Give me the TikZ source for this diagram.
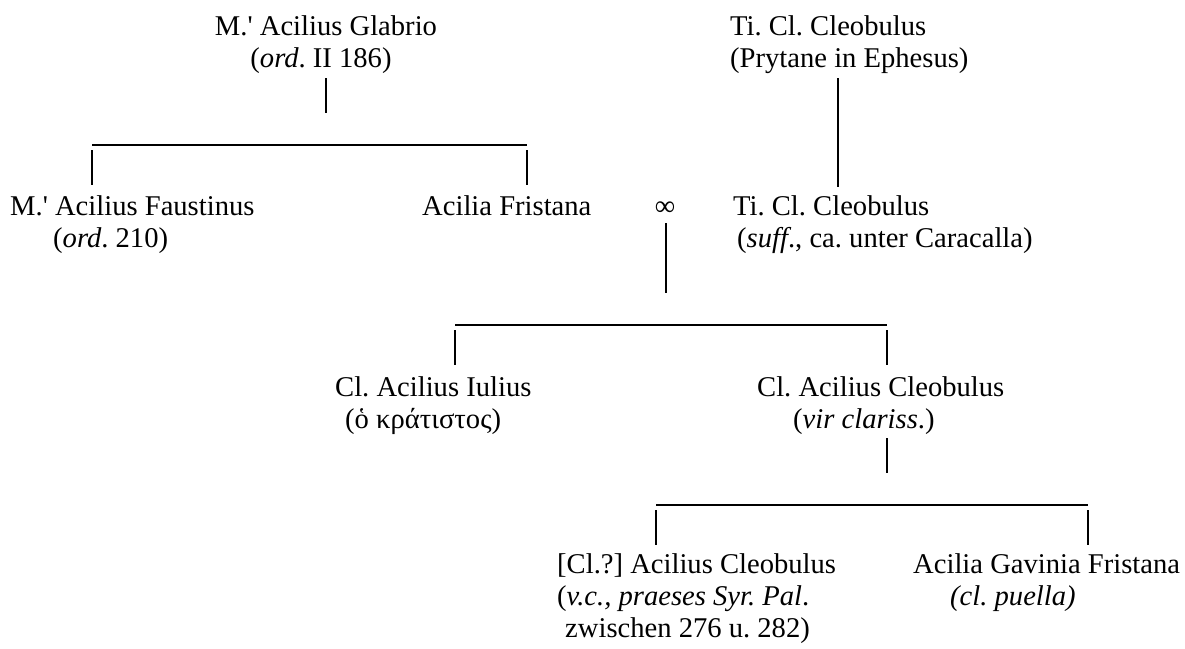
\documentclass[tikz,border=0pt]{standalone}
\usepackage{fontspec}
\setmainfont{Liberation Serif}
\usetikzlibrary{positioning}
\frenchspacing
\tikzset{
  person/.style={inner sep=0pt, font=\fontsize{28.6}{32}\selectfont},
  stem/.style={line width=2.4pt},
  bar/.style={line width=1.1pt}
}

\begin{document}
\begin{tikzpicture}[x=1pt,y=-1pt]
\useasboundingbox (0,0) rectangle (1185,648);
% first generation
\node[person, anchor=base] (glabrio) at (326,35) {M.\textquotesingle{} Acilius Glabrio};
\node[person, anchor=base] (glabrionote) at (321,67) {(\textit{ord}. II 186)};
\node[person, anchor=base west] (prytane) at (730,35) {Ti. Cl. Cleobulus};
\node[person, anchor=base west] (prytanenote) at (730,67) {(Prytane in Ephesus)};
% second generation
\node[person, anchor=base west] (faustinus) at (10,215) {M.\textquotesingle{} Acilius Faustinus};
\node[person, anchor=base west] (faustinusnote) at (53,247) {(\textit{ord}. 210)};
\node[person, anchor=base west] (fristana) at (422,215) {Acilia Fristana};
\node[person, anchor=base] (marriage) at (665,215) {∞};
\node[person, anchor=base west] (suffect) at (733,215) {Ti. Cl. Cleobulus};
\node[person, anchor=base west] (suffectnote) at (737,247) {(\textit{suff}., ca. unter Caracalla)};
% third generation
\node[person, anchor=base west] (iulius) at (335,396) {Cl. Acilius Iulius};
\node[person, anchor=base west] (iuliusnote) at (345,428) {(ὁ κράτιστος)};
\node[person, anchor=base west] (clarissimus) at (757,396) {Cl. Acilius Cleobulus};
\node[person, anchor=base west] (clarissimusnote) at (793,428) {(\textit{vir clariss}.)};
% fourth generation
\node[person, anchor=base west] (praeses) at (557,573) {[Cl.?] Acilius Cleobulus};
\node[person, anchor=base west] (praesesnote) at (557,605) {(\textit{v.c., praeses Syr. Pal}.};
\node[person, anchor=base west] (praesesdate) at (565,637) {zwischen 276 u. 282)};
\node[person, anchor=base west] (gavinia) at (913,573) {Acilia Gavinia Fristana};
\node[person, anchor=base west] (gavinianote) at (950,605) {\textit{(cl. puella)}};
% line ends
\coordinate (glabrio-a) at (326,78);   \coordinate (glabrio-b) at (326,113);
\coordinate (bar1-l) at (92,145);      \coordinate (bar1-r) at (527,145);
\coordinate (prytane-a) at (838,78);   \coordinate (prytane-b) at (838,187);
\coordinate (marriage-a) at (666,223); \coordinate (marriage-b) at (666,293);
\coordinate (bar2-l) at (455,325);     \coordinate (bar2-r) at (887,325);
\coordinate (clariss-a) at (887,438);  \coordinate (clariss-b) at (887,473);
\coordinate (bar3-l) at (656,505);     \coordinate (bar3-r) at (1088,505);
% connectors
\draw[stem] (glabrio-a) -- (glabrio-b);
\draw[bar] (bar1-l) -- (bar1-r);
\draw[stem] ([yshift=-5pt]bar1-l) -- ([yshift=-40pt]bar1-l);
\draw[stem] ([yshift=-5pt]bar1-r) -- ([yshift=-40pt]bar1-r);
\draw[stem] (prytane-a) -- (prytane-b);
\draw[stem] (marriage-a) -- (marriage-b);
\draw[bar] (bar2-l) -- (bar2-r);
\draw[stem] ([yshift=-5pt]bar2-l) -- ([yshift=-40pt]bar2-l);
\draw[stem] ([yshift=-5pt]bar2-r) -- ([yshift=-40pt]bar2-r);
\draw[stem] (clariss-a) -- (clariss-b);
\draw[bar] (bar3-l) -- (bar3-r);
\draw[stem] ([yshift=-5pt]bar3-l) -- ([yshift=-40pt]bar3-l);
\draw[stem] ([yshift=-5pt]bar3-r) -- ([yshift=-40pt]bar3-r);
\end{tikzpicture}
\end{document}
